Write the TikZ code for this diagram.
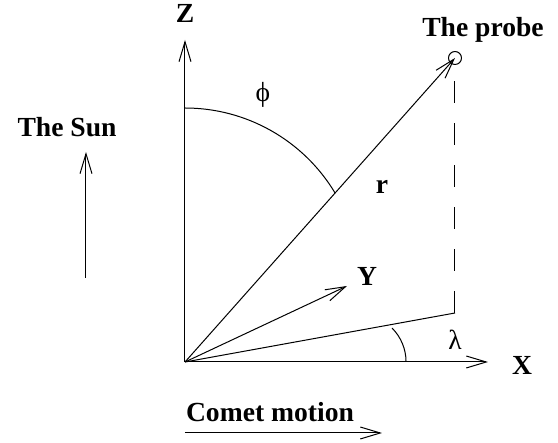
\documentclass[tikz,border=0pt]{standalone}
\usepackage{fontspec}
\setmainfont{Liberation Serif}
\usetikzlibrary{arrows.meta}
\begin{document}
\begin{tikzpicture}[x=0.5pt,y=0.5pt,line join=round,line width=0.5pt,>={Straight Barb[length=10pt,width=6pt]},
	lbl/.style={font=\fontsize{13.8}{16}\selectfont\bfseries,inner sep=0pt},
	greek/.style={font=\fontsize{13.8}{16}\selectfont,inner sep=0pt}]
			\useasboundingbox (-185,-81) rectangle (373,362);
			\coordinate (O) at (0,0);
			\coordinate (Ztip) at (0,322);
			\coordinate (Xtip) at (303,0);
			\coordinate (Ytip) at (162,76);
			\coordinate (foot) at (270,49);
			\node[draw,circle,minimum size=6.5pt,inner sep=0pt] (probe) at (270,304) {};
			\draw[->] (O) -- (Ztip);
			\draw[->] (O) -- (Xtip);
			\draw[->] (O) -- (Ytip);
			\draw[->] (O) -- (probe.center);
			\draw (O) -- (foot);
			\draw[dash pattern=on 11pt off 10pt] (foot) -- (probe.south);
			\draw (0,254) arc[start angle=90,end angle=31,radius=175];
			\draw (207,34) arc[start angle=45,end angle=0,radius=48];
			\node[lbl] (zlab) at (0,349) {Z};
			\node[lbl] (xlab) at (337,-3) {X};
			\node[lbl] (ylab) at (182,86) {Y};
			\node[lbl] (rlab) at (197,175) {r};
			\node[lbl] (probelab) at (298,332) {The probe};
			\node[greek] (philab) at (78,267) {ϕ};
			\node[greek] (lamlab) at (270,22) {λ};
			\node[lbl] (sunlab) at (-118,235) {The Sun};
			\coordinate (sunA) at (-99,84);
			\coordinate (sunB) at (-99,210);
			\draw[->] (sunA) -- (sunB);
			\node[lbl] (cometlab) at (85,-50) {Comet motion};
			\coordinate (cometA) at (0,-71);
			\coordinate (cometB) at (197,-71);
			\draw[->] (cometA) -- (cometB);
		\end{tikzpicture}
\end{document}
